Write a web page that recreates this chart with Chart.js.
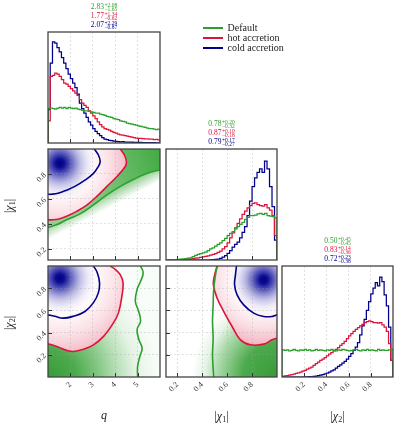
<!DOCTYPE html>
<html>
<head>
<meta charset="utf-8">
<script src="https://cdn.jsdelivr.net/npm/chart.js@4/dist/chart.umd.min.js"></script>
<style>
  html, body { margin: 0; padding: 0; background: #fff; }
  #fig { position: relative; width: 396px; height: 426px; overflow: hidden;
         font-family: "Liberation Serif", "DejaVu Serif", serif; color: #222; }
  #fig canvas { position: absolute; left: 0; top: 0; }
  .ttl { position: absolute; width: 120px; text-align: center; font-size: 7.5px; line-height: 8.5px; white-space: nowrap; }
  .ss { display: inline-flex; flex-direction: column; vertical-align: middle; font-size: 5.5px; line-height: 4.5px; margin-left: 0.5px; text-align: left; }
  .lbl { position: absolute; font-size: 12px; white-space: nowrap; transform: translate(-50%, -50%); }
  .lbl sub { font-size: 8px; vertical-align: -2px; line-height: 0; }
  .rot { transform: translate(-50%, -50%) rotate(-90deg); }
  #legend { position: absolute; left: 203px; top: 23px; font-size: 10px; line-height: 10.2px; }
  #legend .row { height: 10.2px; white-space: nowrap; }
  #legend .sw { display: inline-block; width: 20px; height: 1.8px; vertical-align: middle; margin-right: 4.5px; position: relative; top: -1px; }
</style>
</head>
<body>
<div id="fig">
  <canvas id="hq" width="396" height="426"></canvas>
  <canvas id="hc1" width="396" height="426"></canvas>
  <canvas id="hc2" width="396" height="426"></canvas>
  <canvas id="pqc1" width="396" height="426"></canvas>
  <canvas id="pqc2" width="396" height="426"></canvas>
  <canvas id="pc1c2" width="396" height="426"></canvas>
</div>
<script>
// ── Data ───────────────────────────────────────────────────────────────────

const seriesLabels = ['Default', 'hot accretion', 'cold accretion'];

const qTicks   = [2, 3, 4, 5];
const chiTicks = [0.2, 0.4, 0.6, 0.8];
const qRange    = [1, 6];
const chi1Range = [0.11, 1.0];
const chi2Range = [0, 1];

// histogram heights as a fraction of the panel height
const qBinStart = 1.0, qBinWidth = 0.1;
const qHistDefault = [0.31,0.315,0.31,0.305,0.315,0.32,0.315,0.32,0.31,0.32,
  0.315,0.31,0.315,0.305,0.30,0.295,0.29,0.29,0.285,0.28,
  0.275,0.27,0.27,0.26,0.255,0.25,0.24,0.235,0.23,0.22,
  0.215,0.21,0.20,0.195,0.19,0.18,0.175,0.17,0.165,0.16,
  0.155,0.15,0.145,0.14,0.135,0.13,0.13,0.125,0.12,0.125];
const qHistHot = [0.20,0.60,0.61,0.63,0.62,0.60,0.57,0.54,0.53,0.51,
  0.49,0.47,0.45,0.43,0.39,0.36,0.34,0.32,0.29,0.27,
  0.245,0.22,0.19,0.165,0.145,0.13,0.122,0.115,0.105,0.095,
  0.088,0.08,0.074,0.07,0.066,0.062,0.058,0.054,0.048,0.045,
  0.042,0.042,0.04,0.038,0.038,0.035,0.034,0.03,0.032,0.028];
const qHistCold = [0.30,0.72,0.91,0.90,0.86,0.82,0.77,0.72,0.67,0.62,
  0.58,0.54,0.50,0.44,0.36,0.31,0.27,0.23,0.19,0.16,
  0.13,0.105,0.085,0.066,0.048,0.036,0.030,0.024,0.021,0.018,
  0.015,0.012,0.010,0.012,0.009,0.008,0.007,0.008,0.006,0.006,
  0.005,0.005,0.004,0.004,0.003,0.004,0.003,0.003,0.002,0.002];

const chi1BinStart = 0.12, chi1BinWidth = 0.02;
const chi1HistDefault = [0,0.001,0.002,0.004,0.006,0.008,0.01,0.012,0.016,0.02,
  0.03,0.042,0.05,0.058,0.065,0.072,0.085,0.1,0.11,0.125,
  0.14,0.155,0.175,0.195,0.22,0.24,0.255,0.28,0.3,0.32,
  0.34,0.365,0.385,0.4,0.4,0.405,0.415,0.42,0.41,0.42,
  0.4,0.395,0.39,0.38];
const chi1HistHot = [0,0,0,0,0,0.002,0.004,0.006,0.008,0.01,
  0.013,0.016,0.02,0.024,0.028,0.032,0.038,0.045,0.05,0.058,
  0.068,0.08,0.1,0.12,0.155,0.2,0.245,0.29,0.33,0.37,
  0.41,0.44,0.47,0.49,0.51,0.515,0.5,0.49,0.485,0.5,
  0.47,0.45,0.4,0.22];
const chi1HistCold = [0,0,0,0,0,0,0,0,0,0,
  0,0,0,0,0,0,0,0.001,0.003,0.005,
  0.008,0.015,0.025,0.04,0.06,0.085,0.115,0.14,0.16,0.2,
  0.25,0.3,0.4,0.53,0.66,0.74,0.79,0.82,0.79,0.89,
  0.82,0.66,0.48,0.18];

const chi2BinStart = 0, chi2BinWidth = 0.02;
const chi2HistDefault = [0.245,0.24,0.245,0.235,0.24,0.25,0.24,0.235,0.245,0.24,
  0.25,0.24,0.245,0.235,0.24,0.25,0.24,0.245,0.24,0.235,
  0.245,0.24,0.25,0.24,0.235,0.245,0.24,0.25,0.245,0.24,
  0.235,0.24,0.245,0.25,0.24,0.235,0.245,0.24,0.25,0.24,
  0.245,0.24,0.235,0.25,0.24,0.245,0.24,0.24,0.245,0.25];
const chi2HistHot = [0.006,0.01,0.013,0.018,0.022,0.027,0.032,0.038,0.045,0.052,
  0.06,0.07,0.08,0.09,0.105,0.12,0.135,0.15,0.16,0.175,
  0.19,0.205,0.22,0.235,0.25,0.265,0.285,0.3,0.32,0.345,
  0.37,0.39,0.41,0.43,0.445,0.46,0.475,0.49,0.5,0.505,
  0.5,0.49,0.49,0.485,0.49,0.47,0.45,0.41,0.3,0.15];
const chi2HistCold = [0,0,0,0,0,0,0,0,0,0,
  0.001,0.002,0.003,0.004,0.005,0.008,0.012,0.017,0.022,0.028,
  0.035,0.045,0.055,0.065,0.08,0.095,0.11,0.125,0.14,0.16,
  0.185,0.21,0.24,0.27,0.31,0.38,0.46,0.52,0.6,0.68,
  0.75,0.8,0.85,0.82,0.9,0.86,0.74,0.64,0.45,0.15];

// contour lines, [x, y] in data units
const qChi1Default = [[1.0,0.373],[1.38,0.392],[1.83,0.432],[2.43,0.48],[3.03,0.552],[3.63,0.632],[4.23,0.70],[4.83,0.757],[5.43,0.805],[6.0,0.832]];
const qChi1Hot  = [[4.23,1.0],[4.41,0.952],[4.5,0.9],[4.45,0.86],[4.08,0.78],[3.63,0.70],[3.18,0.62],[2.73,0.55],[2.28,0.50],[1.83,0.46],[1.45,0.437],[1.15,0.432],[1.0,0.432]];
const qChi1Cold = [[3.07,1.0],[3.25,0.952],[3.33,0.90],[3.25,0.86],[3.03,0.805],[2.65,0.75],[2.2,0.70],[1.83,0.67],[1.45,0.645],[1.15,0.637],[1.0,0.637]];

const qChi2Default = [[5.13,1.0],[5.25,0.94],[5.13,0.86],[4.98,0.79],[4.9,0.68],[5.05,0.59],[5.13,0.50],[4.98,0.43],[5.05,0.34],[5.2,0.26],[5.1,0.185],[5.0,0.095],[5.0,0.0]];
const qChi2Hot  = [[3.78,1.0],[4.0,0.97],[4.23,0.92],[4.35,0.85],[4.3,0.73],[4.15,0.58],[3.93,0.49],[3.48,0.366],[3.03,0.29],[2.58,0.25],[2.13,0.23],[1.83,0.24],[1.45,0.27],[1.15,0.29],[1.0,0.30]];
const qChi2Cold = [[3.03,1.0],[3.2,0.94],[3.3,0.85],[3.25,0.76],[3.03,0.67],[2.65,0.59],[2.13,0.547],[1.68,0.53],[1.3,0.547],[1.0,0.56]];

const chi1Chi2Default = [[0.52,1.0],[0.507,0.92],[0.493,0.80],[0.488,0.65],[0.483,0.50],[0.488,0.35],[0.483,0.20],[0.488,0.08],[0.493,0.0]];
const chi1Chi2Hot  = [[0.52,1.0],[0.50,0.92],[0.49,0.83],[0.52,0.71],[0.573,0.59],[0.64,0.455],[0.707,0.335],[0.787,0.29],[0.893,0.296],[0.96,0.335],[1.0,0.35]];
const chi1Chi2Cold = [[0.675,1.0],[0.667,0.92],[0.66,0.83],[0.68,0.74],[0.733,0.65],[0.813,0.575],[0.893,0.545],[0.96,0.545],[1.0,0.56]];

// density peaks of the cold-accretion sample
const peakQChi1    = [1.53, 0.885];
const peakQChi2    = [1.53, 0.89];
const peakChi1Chi2 = [0.893, 0.875];

// medians with upper / lower errors (Default, hot, cold)
const qMed  = [2.83, 1.77, 2.07], qUp  = [2.08, 1.34, 2.29], qLo  = [1.65, 0.62, 0.87];
const c1Med = [0.78, 0.87, 0.79], c1Up = [0.20, 0.10, 0.17], c1Lo = [0.32, 0.18, 0.27];
const c2Med = [0.50, 0.83, 0.72], c2Up = [0.45, 0.14, 0.23], c2Lo = [0.45, 0.36, 0.38];

// ── Layout / style ─────────────────────────────────────────────────────────

const COLORS = ['#2ca02c', '#dc143c', '#00008b'];
const COLS = [[48, 160], [166, 277], [282, 393]];
const ROWS = [[32, 143], [149, 260], [266, 377]];
const W = 396, H = 426;
const AXIS = 40;   // reserved room for tick labels
const FONT = 'Liberation Serif';

const pinkStops = [[0,'rgba(220,20,60,0)'],[0.45,'rgba(220,20,60,0.02)'],[0.7,'rgba(220,20,60,0.12)'],[0.9,'rgba(220,20,60,0.25)'],[1,'rgba(220,20,60,0.32)']];
const blueStops = [[0,'rgba(0,0,128,1)'],[0.12,'rgba(0,0,140,0.95)'],[0.3,'rgba(20,20,160,0.7)'],[0.55,'rgba(60,60,180,0.35)'],[0.8,'rgba(120,120,210,0.12)'],[1,'rgba(160,160,230,0)']];

const fmtQ = v => String(v);
const fmtChi = v => v.toFixed(1);

function axis(range, ticks, labels, horizontal, fmt) {
  return {
    type: 'linear', min: range[0], max: range[1],
    afterBuildTicks: s => { s.ticks = ticks.map(v => ({ value: v })); },
    afterFit: s => { if (horizontal) s.height = AXIS; else s.width = AXIS; },
    grid: { color: 'rgba(160,160,160,0.45)', lineWidth: 0.7, drawTicks: false },
    border: { display: false, dash: [2, 2] },
    ticks: { display: labels, minRotation: 45, maxRotation: 45, padding: 3, color: '#333',
             font: { family: FONT, size: 8 }, callback: fmt },
  };
}

function histSet(start, width, vals, color) {
  const pts = [{ x: start, y: 0 }];
  vals.forEach((v, i) => pts.push({ x: start + i * width, y: v }));
  const end = start + vals.length * width;
  pts.push({ x: end, y: vals[vals.length - 1] }, { x: end, y: 0 });
  return { data: pts, showLine: true, stepped: 'before', borderColor: color, borderWidth: 1.25, pointRadius: 0 };
}

function contourSet(pairs, color) {
  return { data: pairs.map(([x, y]) => ({ x, y })), showLine: true, tension: 0.4,
           borderColor: color, borderWidth: 1.6, pointRadius: 0 };
}

function paint(ctx, f, px) {
  if (f.color) return f.color;
  let g;
  if (f.radial) {
    const [cx, cy] = px(f.radial);
    g = ctx.createRadialGradient(cx, cy, 0, cx, cy, f.r);
  } else {
    const [x0, y0] = px(f.linear[0]);
    const [x1, y1] = px(f.linear[1]);
    g = ctx.createLinearGradient(x0, y0, x1, y1);
  }
  f.stops.forEach(([o, c]) => g.addColorStop(o, c));
  return g;
}

// shading from the contour datasets, panel frame and inward tick marks
function panelPlugin(layers, yTicks) {
  return {
    id: 'panel',
    beforeDraw(chart) {
      const { ctx, chartArea: a } = chart;
      const { x, y } = chart.scales;
      const px = p => [x.getPixelForValue(p[0]), y.getPixelForValue(p[1])];
      ctx.save();
      ctx.beginPath();
      ctx.rect(a.left, a.top, a.right - a.left, a.bottom - a.top);
      ctx.clip();
      for (const L of layers) {
        ctx.beginPath();
        if (L.contour != null) {
          const line = chart.getDatasetMeta(L.contour).dataset;
          line.updateControlPoints(a, 'x');
          line.path(ctx);
          L.close.forEach(c => { const [cx, cy] = px(c); ctx.lineTo(cx, cy); });
          ctx.closePath();
        } else {
          ctx.rect(a.left, a.top, a.right - a.left, a.bottom - a.top);
        }
        for (const f of L.fills) { ctx.fillStyle = paint(ctx, f, px); ctx.fill(); }
      }
      ctx.restore();
    },
    afterDraw(chart) {
      const { ctx, chartArea: a } = chart;
      const { x, y } = chart.scales;
      ctx.save();
      ctx.strokeStyle = '#333';
      ctx.lineWidth = 1;
      ctx.beginPath();
      x.ticks.forEach(t => {
        const p = Math.round(x.getPixelForValue(t.value)) + 0.5;
        ctx.moveTo(p, a.bottom); ctx.lineTo(p, a.bottom - 4);
      });
      if (yTicks) y.ticks.forEach(t => {
        const p = Math.round(y.getPixelForValue(t.value)) + 0.5;
        ctx.moveTo(a.left, p); ctx.lineTo(a.left + 4, p);
      });
      ctx.stroke();
      ctx.strokeStyle = '#444';
      ctx.lineWidth = 1.3;
      ctx.strokeRect(a.left, a.top, a.right - a.left, a.bottom - a.top);
      ctx.restore();
    },
  };
}

function makeChart(id, col, row, scales, datasets, plugin) {
  const yRoom = scales.y.display === false ? 0 : AXIS;
  return new Chart(document.getElementById(id), {
    type: 'scatter',
    data: { datasets },
    options: {
      responsive: false, animation: false, devicePixelRatio: 1, events: [],
      layout: { padding: { left: COLS[col][0] - yRoom, right: W - COLS[col][1], top: ROWS[row][0], bottom: H - ROWS[row][1] - AXIS } },
      scales,
      plugins: { legend: { display: false }, tooltip: { enabled: false } },
    },
    plugins: [plugin],
  });
}

// ── Diagonal histograms ────────────────────────────────────────────────────

const histY = { display: false, min: 0, max: 1 };

makeChart('hq', 0, 0, { x: axis(qRange, qTicks, false, true, fmtQ), y: histY }, [
  histSet(qBinStart, qBinWidth, qHistDefault, COLORS[0]),
  histSet(qBinStart, qBinWidth, qHistHot, COLORS[1]),
  histSet(qBinStart, qBinWidth, qHistCold, COLORS[2]),
], panelPlugin([], false));

makeChart('hc1', 1, 1, { x: axis(chi1Range, chiTicks, false, true, fmtChi), y: histY }, [
  histSet(chi1BinStart, chi1BinWidth, chi1HistDefault, COLORS[0]),
  histSet(chi1BinStart, chi1BinWidth, chi1HistHot, COLORS[1]),
  histSet(chi1BinStart, chi1BinWidth, chi1HistCold, COLORS[2]),
], panelPlugin([], false));

makeChart('hc2', 2, 2, { x: axis(chi2Range, chiTicks, true, true, fmtChi), y: histY }, [
  histSet(chi2BinStart, chi2BinWidth, chi2HistDefault, COLORS[0]),
  histSet(chi2BinStart, chi2BinWidth, chi2HistHot, COLORS[1]),
  histSet(chi2BinStart, chi2BinWidth, chi2HistCold, COLORS[2]),
], panelPlugin([], false));

// ── 2D panels ──────────────────────────────────────────────────────────────

makeChart('pqc1', 0, 1, {
  x: axis(qRange, qTicks, false, true, fmtQ),
  y: axis(chi1Range, chiTicks, true, false, fmtChi),
}, [
  contourSet(qChi1Default, COLORS[0]),
  contourSet(qChi1Hot, COLORS[1]),
  contourSet(qChi1Cold, COLORS[2]),
], panelPlugin([
  { contour: 0, close: [[6, 0.11], [1, 0.11]],
    fills: [{ linear: [[3.5, 0.615], [3.75, 0.53]], stops: [[0, 'rgba(44,160,44,0.45)'], [1, 'rgba(44,160,44,0)']] }] },
  { contour: 0, close: [[6, 1.0], [1, 1.0]],
    fills: [{ linear: [[2, 0.7], [6, 0.9]], stops: [[0, 'rgba(44,160,44,0.5)'], [1, 'rgba(44,160,44,0.88)']] }] },
  { contour: 1, close: [[1, 1.0]], fills: [{ color: '#fff' }, { radial: peakQChi1, r: 70, stops: pinkStops }] },
  { fills: [{ radial: peakQChi1, r: 36, stops: blueStops }] },
], true));

makeChart('pqc2', 0, 2, {
  x: axis(qRange, qTicks, true, true, fmtQ),
  y: axis(chi2Range, chiTicks, true, false, fmtChi),
}, [
  contourSet(qChi2Default, COLORS[0]),
  contourSet(qChi2Hot, COLORS[1]),
  contourSet(qChi2Cold, COLORS[2]),
], panelPlugin([
  { contour: 1, close: [[1, 0], [6, 0], [6, 1]],
    fills: [{ radial: [1, 0], r: 110, stops: [[0, 'rgba(44,150,44,0.95)'], [0.25, 'rgba(44,155,44,0.85)'], [0.45, 'rgba(44,160,44,0.6)'], [0.62, 'rgba(44,160,44,0.35)'], [0.8, 'rgba(44,160,44,0.12)'], [1, 'rgba(44,160,44,0.03)']] }] },
  { contour: 1, close: [[1, 1]], fills: [{ color: '#fff' }, { radial: peakQChi2, r: 80, stops: pinkStops }] },
  { fills: [{ radial: peakQChi2, r: 36, stops: blueStops }] },
], true));

makeChart('pc1c2', 1, 2, {
  x: axis(chi1Range, chiTicks, true, true, fmtChi),
  y: axis(chi2Range, chiTicks, false, false, fmtChi),
}, [
  contourSet(chi1Chi2Default, COLORS[0]),
  contourSet(chi1Chi2Hot, COLORS[1]),
  contourSet(chi1Chi2Cold, COLORS[2]),
], panelPlugin([
  { contour: 1, close: [[1.0, 0], [0.11, 0], [0.11, 1.0]],
    fills: [{ radial: [1.0, 0], r: 85, stops: [[0, 'rgba(44,150,44,0.95)'], [0.4, 'rgba(44,155,44,0.85)'], [0.7, 'rgba(44,160,44,0.4)'], [0.85, 'rgba(44,160,44,0.12)'], [1, 'rgba(44,160,44,0)']] }] },
  { contour: 1, close: [[1.0, 1.0]], fills: [{ color: '#fff' }, { radial: peakChi1Chi2, r: 66, stops: pinkStops }] },
  { fills: [{ radial: peakChi1Chi2, r: 34, stops: blueStops }] },
], true));

// ── Titles, legend, axis labels ────────────────────────────────────────────

const fig = document.getElementById('fig');

function addTitle(col, row, med, up, lo) {
  const box = document.createElement('div');
  box.className = 'ttl';
  const cx = (COLS[col][0] + COLS[col][1]) / 2;
  box.style.left = (cx - 60) + 'px';
  box.style.top = (ROWS[row][0] - 29.5) + 'px';
  box.innerHTML = COLORS.map((c, i) =>
    `<div style="color:${c}">${med[i].toFixed(2)}<span class="ss"><span>+${up[i].toFixed(2)}</span><span>\u2212${lo[i].toFixed(2)}</span></span></div>`
  ).join('');
  fig.appendChild(box);
}
addTitle(0, 0, qMed, qUp, qLo);
addTitle(1, 1, c1Med, c1Up, c1Lo);
addTitle(2, 2, c2Med, c2Up, c2Lo);

const legend = document.createElement('div');
legend.id = 'legend';
legend.innerHTML = seriesLabels.map((s, i) =>
  `<div class="row"><span class="sw" style="background:${COLORS[i]}"></span>${s}</div>`).join('');
fig.appendChild(legend);

function addLabel(html, x, y, rotated) {
  const el = document.createElement('div');
  el.className = 'lbl' + (rotated ? ' rot' : '');
  el.style.left = x + 'px';
  el.style.top = y + 'px';
  el.innerHTML = html;
  fig.appendChild(el);
}
addLabel('<i>q</i>', 104, 415, false);
addLabel('|<i>χ</i><sub>1</sub>|', 221.5, 416, false);
addLabel('|<i>χ</i><sub>2</sub>|', 337.5, 416, false);
addLabel('|<i>χ</i><sub>1</sub>|', 9, 206, true);
addLabel('|<i>χ</i><sub>2</sub>|', 9, 323, true);
</script>
</body>
</html>
